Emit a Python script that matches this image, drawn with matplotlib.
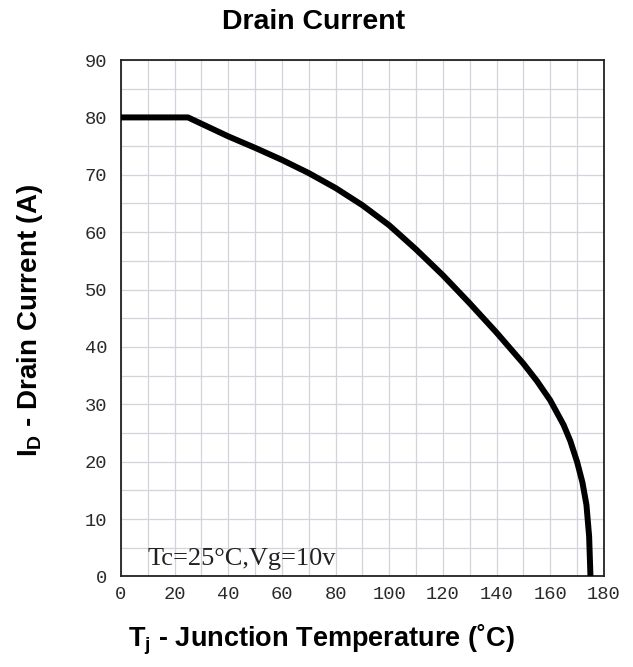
import matplotlib
matplotlib.use('Agg')
import matplotlib.pyplot as plt
import numpy as np

# derating curve
temp_c = [0, 25, 40, 50, 60, 70, 80, 90, 100, 110, 120, 130, 140, 150, 155, 160,
          165, 167.5, 170, 172, 173.5, 174.5, 175]
drain_a = [80, 80, 76.7, 74.7, 72.6, 70.3, 67.7, 64.7, 61.2, 57.0, 52.5, 47.6, 42.5, 37.1, 34.1, 30.7,
           26.4, 23.6, 20.0, 16.4, 12.5, 7.0, 0]

x_ticks = [0, 20, 40, 60, 80, 100, 120, 140, 160, 180]
y_ticks = [0, 10, 20, 30, 40, 50, 60, 70, 80, 90]

plt.rcParams['mathtext.fontset'] = 'custom'
plt.rcParams['mathtext.bf'] = 'Liberation Sans:bold'
plt.rcParams['mathtext.rm'] = 'Liberation Sans'

fig = plt.figure(figsize=(6.33, 6.67), dpi=100)
ax = fig.add_axes([0.191, 0.1357, 0.763, 0.7743])

ax.plot(temp_c, drain_a, color='black', linewidth=4.3, solid_capstyle='butt',
        solid_joinstyle='round', zorder=3)

ax.set_xlim(0, 180)
ax.set_ylim(0, 90)
ax.set_xticks(x_ticks)
ax.set_yticks(y_ticks)
ax.set_xticks(np.arange(0, 181, 10), minor=True)
ax.set_yticks(np.arange(0, 91, 5), minor=True)
ax.grid(which='both', color='#d2d3dc', linewidth=0.9)
ax.set_axisbelow(True)
ax.tick_params(which='both', length=0)
ax.tick_params(axis='x', pad=7)
ax.tick_params(axis='y', pad=10)
for lab in ax.get_xticklabels() + ax.get_yticklabels():
    lab.set_fontfamily('Liberation Mono')
    lab.set_fontsize(13.5)
    lab.set_color('#2a2a2a')
for sp in ax.spines.values():
    sp.set_linewidth(1.3)
    sp.set_color('#222222')

ax.text(10, 2, 'Tc=25°C,Vg=10v', family='Liberation Serif', fontsize=19,
        color='#222222', ha='left', va='baseline')

fig.text(0.495, 0.967, 'Drain Current', family='Liberation Sans', weight='bold',
         fontsize=20.5, ha='center', va='center')
fig.text(0.508, 0.04, r'$\mathbf{T_j}$ - Junction Temperature (˚C)',
         family='Liberation Sans', weight='bold', fontsize=19.5, ha='center', va='center')
fig.text(0.047, 0.52, r'$\mathbf{I_D}$ - Drain Current (A)', family='Liberation Sans',
         weight='bold', fontsize=20, ha='center', va='center', rotation=90)

plt.savefig('out.png', dpi=100)
